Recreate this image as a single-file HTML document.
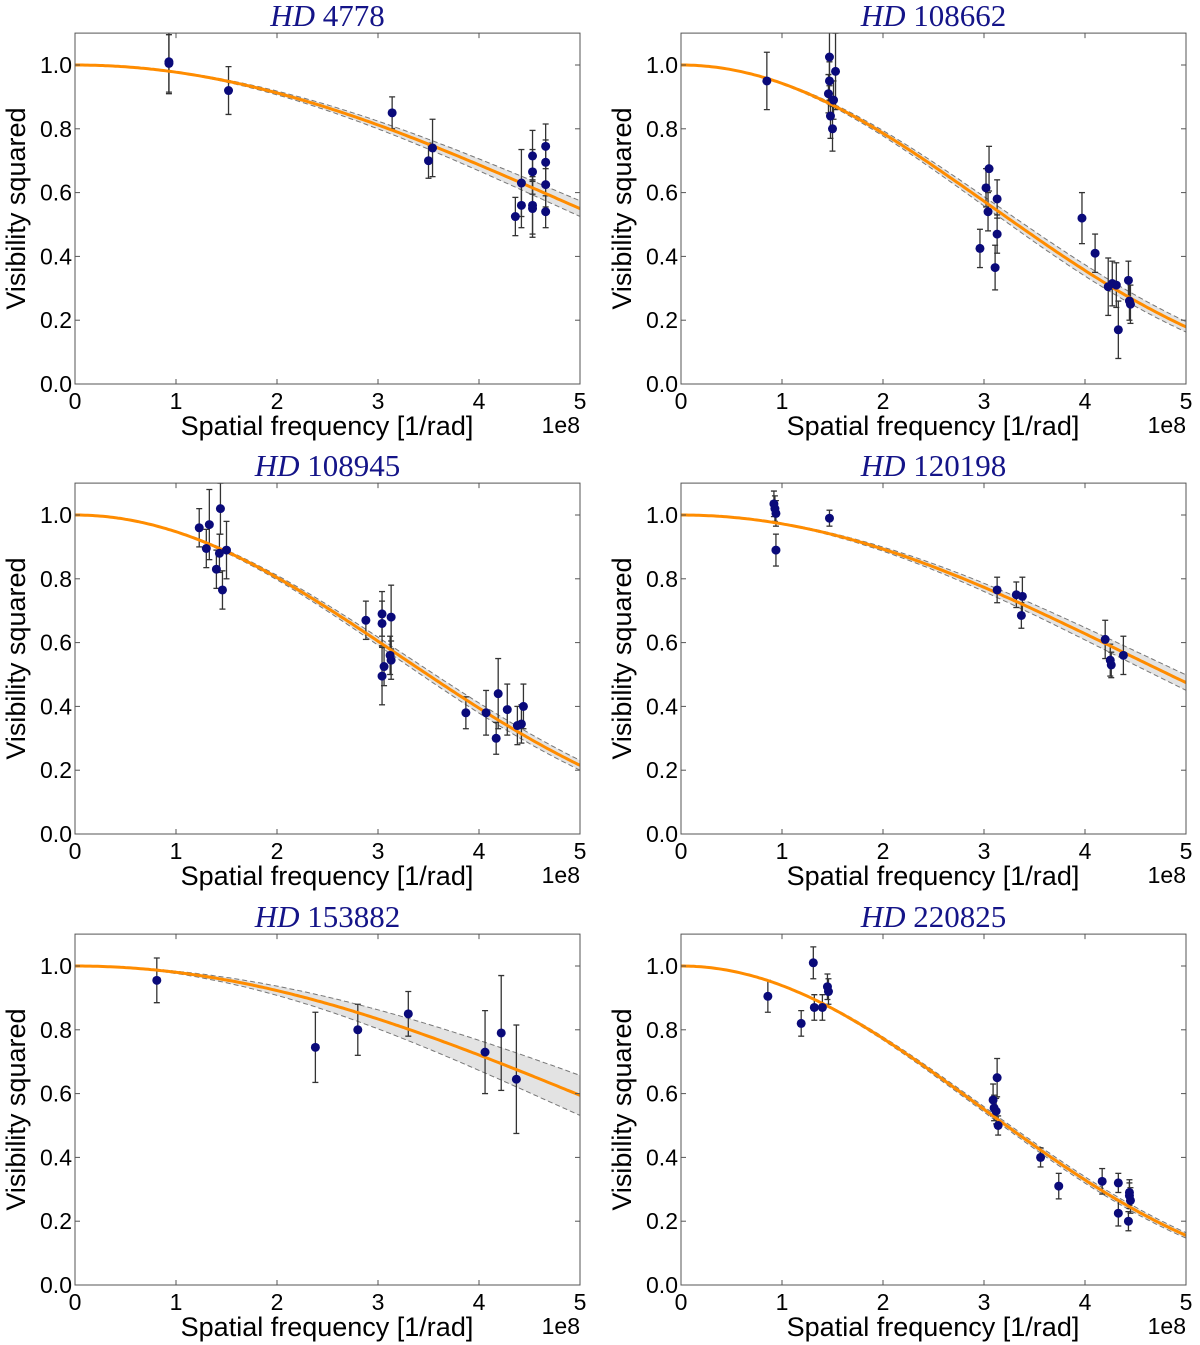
<!DOCTYPE html>
<html><head><meta charset="utf-8"><style>
html,body{margin:0;padding:0;background:#fff;}
svg{display:block;}
</style></head><body>
<svg id="fig" width="1200" height="1345" viewBox="0 0 1200 1345" xmlns="http://www.w3.org/2000/svg"></svg>
<script>
// ---------- data ----------
const starNames = ["4778","108662","108945","120198","153882","220825"];
const diametersMas = [0.198,0.319,0.304,0.2196,0.1852,0.3296];
const diameterErrMas = [0.007,0.007,0.006,0.007,0.018,0.004];
const xTicks = [0,1,2,3,4,5];
const yTicks = [0.0,0.2,0.4,0.6,0.8,1.0];
const yTickLabels = ["0.0","0.2","0.4","0.6","0.8","1.0"];
const freq1 = [0.93,0.93,1.52,3.14,3.50,3.54,4.36,4.42,4.42,4.53,4.53,4.53,4.53,4.66,4.66,4.66,4.66];
const vis1  = [1.01,1.005,0.92,0.85,0.70,0.74,0.525,0.63,0.56,0.56,0.55,0.715,0.665,0.745,0.695,0.625,0.54];
const err1  = [0.10,0.09,0.075,0.05,0.055,0.09,0.06,0.105,0.07,0.09,0.09,0.08,0.07,0.07,0.07,0.07,0.05];
const freq2 = [0.85,1.47,1.47,1.46,1.48,1.50,1.51,1.53,2.96,3.02,3.05,3.04,3.11,3.13,3.13,3.97,4.10,4.23,4.27,4.31,4.33,4.43,4.44,4.45];
const vis2  = [0.95,1.025,0.95,0.91,0.84,0.80,0.89,0.98,0.425,0.615,0.675,0.54,0.365,0.47,0.58,0.52,0.41,0.305,0.315,0.31,0.17,0.325,0.26,0.25];
const err2  = [0.09,0.09,0.06,0.06,0.07,0.07,0.06,0.12,0.06,0.06,0.07,0.06,0.07,0.06,0.06,0.08,0.06,0.09,0.07,0.07,0.09,0.06,0.06,0.06];
const freq3 = [1.23,1.33,1.30,1.40,1.43,1.44,1.46,1.50,2.88,3.04,3.04,3.04,3.06,3.13,3.13,3.12,3.87,4.07,4.17,4.19,4.28,4.38,4.42,4.44];
const vis3  = [0.96,0.97,0.895,0.83,0.88,1.02,0.765,0.89,0.67,0.66,0.69,0.495,0.525,0.545,0.68,0.56,0.38,0.38,0.30,0.44,0.39,0.34,0.345,0.40];
const err3  = [0.06,0.11,0.06,0.06,0.06,0.08,0.06,0.09,0.06,0.07,0.07,0.09,0.06,0.06,0.10,0.06,0.05,0.07,0.05,0.11,0.08,0.06,0.06,0.07];
const freq4 = [0.92,0.93,0.94,0.94,1.47,3.13,3.32,3.38,3.37,4.20,4.25,4.26,4.38];
const vis4  = [1.035,1.02,1.005,0.89,0.99,0.765,0.75,0.745,0.685,0.61,0.545,0.53,0.56];
const err4  = [0.04,0.04,0.04,0.05,0.025,0.04,0.04,0.06,0.04,0.06,0.05,0.04,0.06];
const freq5 = [0.81,2.38,2.80,3.30,4.06,4.22,4.37];
const vis5  = [0.955,0.745,0.80,0.85,0.73,0.79,0.645];
const err5  = [0.07,0.11,0.08,0.07,0.13,0.18,0.17];
const freq6 = [0.86,1.19,1.31,1.32,1.40,1.45,1.46,3.09,3.10,3.12,3.13,3.14,3.56,3.74,4.17,4.33,4.33,4.43,4.44,4.44,4.45];
const vis6  = [0.905,0.82,1.01,0.87,0.87,0.935,0.92,0.58,0.555,0.545,0.65,0.50,0.40,0.31,0.325,0.32,0.225,0.20,0.29,0.28,0.265];
const err6  = [0.05,0.04,0.05,0.04,0.04,0.04,0.04,0.05,0.04,0.04,0.06,0.03,0.03,0.04,0.04,0.03,0.04,0.03,0.04,0.04,0.04];

const freqs=[freq1,freq2,freq3,freq4,freq5,freq6];
const viss=[vis1,vis2,vis3,vis4,vis5,vis6];
const errs=[err1,err2,err3,err4,err5,err6];

// ---------- helpers ----------
const NS="http://www.w3.org/2000/svg";
const svg=document.getElementById('fig');
function mk(tag,attrs,parent){const e=document.createElementNS(NS,tag);for(const k in attrs)e.setAttribute(k,attrs[k]);(parent||svg).appendChild(e);return e;}
function J1(z){let s=0,t=z/2;for(let k=0;k<30;k++){s+=t;t*=-(z*z/4)/((k+1)*(k+2));}return s;}
function v2(u,thetaMas){const z=Math.PI*thetaMas*4.8481e-9*u*1e8;if(z<1e-9)return 1;const v=2*J1(z)/z;return v*v;}

const colX=[75,681], rowY1=[65,515,966], W=505, H=319;
const FONT='"Liberation Sans","DejaVu Sans",sans-serif';

for(let p=0;p<6;p++){
  const c=p%2, r=Math.floor(p/2);
  const x0=colX[c], y0=rowY1[r]+H;
  const X=u=>x0+u*W/5, Y=v=>y0-v*H;
  const top=Y(1.1);
  const g=mk('g',{});
  
  
  const cid='clip'+p;
  const cp=mk('clipPath',{id:cid},g); mk('rect',{x:x0,y:top,width:W,height:y0-top},cp);
  const pg=mk('g',{'clip-path':'url(#'+cid+')'},g);
  const th=diametersMas[p], dt=diameterErrMas[p];
  let up=[],lo=[],mid=[];
  for(let i=0;i<=200;i++){const u=5*i/200;up.push([X(u),Y(v2(u,th-dt))]);lo.push([X(u),Y(v2(u,th+dt))]);mid.push([X(u),Y(v2(u,th))]);}
  const pts=a=>a.map(q=>q[0].toFixed(1)+','+q[1].toFixed(1)).join(' ');
  const band=mk('polygon',{points:pts(up)+' '+pts(lo.slice().reverse()),fill:'#e3e3e3',stroke:'none'},pg);
  
  
  const bu=mk('polyline',{points:pts(up),fill:'none',stroke:'#777','stroke-width':1,'stroke-dasharray':'5,3'},pg);
  
  
  const bl=mk('polyline',{points:pts(lo),fill:'none',stroke:'#777','stroke-width':1,'stroke-dasharray':'5,3'},pg);
  
  
  const fq=freqs[p],vs=viss[p],er=errs[p];
  for(let i=0;i<fq.length;i++){
    const xx=X(fq[i]);
    const eb=mk('g',{stroke:'#333','stroke-width':1.3},pg);
    
    
    mk('line',{x1:xx,x2:xx,y1:Y(vs[i]-er[i]),y2:Y(vs[i]+er[i])},eb);
    mk('line',{x1:xx-3,x2:xx+3,y1:Y(vs[i]-er[i]),y2:Y(vs[i]-er[i])},eb);
    mk('line',{x1:xx-3,x2:xx+3,y1:Y(vs[i]+er[i]),y2:Y(vs[i]+er[i])},eb);
  }
  const ml=mk('polyline',{points:pts(mid),fill:'none',stroke:'#ff8c00','stroke-width':3},pg);
  
  
  for(let i=0;i<fq.length;i++){
    const pt=mk('circle',{cx:X(fq[i]),cy:Y(vs[i]),r:4.5,fill:'#0a0a7a'},pg);
    
    
  }
  const fr=mk('rect',{x:x0,y:top,width:W,height:y0-top,fill:'none',stroke:'#555','stroke-width':1},g);
  
  
  xTicks.forEach(t=>{
    const xx=X(t);
    mk('line',{x1:xx,x2:xx,y1:y0,y2:y0-5,stroke:'#555'},g);
    mk('line',{x1:xx,x2:xx,y1:top,y2:top+5,stroke:'#555'},g);
    const tl=mk('text',{x:xx,y:y0+25,'text-anchor':'middle','font-size':23,'font-family':FONT},g);
    tl.textContent=t;
    
    
  });
  yTicks.forEach((t,i)=>{
    const yy=Y(t);
    mk('line',{x1:x0,x2:x0+5,y1:yy,y2:yy,stroke:'#555'},g);
    mk('line',{x1:x0+W,x2:x0+W-5,y1:yy,y2:yy,stroke:'#555'},g);
    const tl=mk('text',{x:x0-3,y:yy+8,'text-anchor':'end','font-size':23,'font-family':FONT},g);
    tl.textContent=yTickLabels[i];
    
    
  });
  const xl=mk('text',{x:x0+252,y:y0+51,'text-anchor':'middle','font-size':27,'font-family':FONT},g);
  xl.textContent='Spatial frequency [1/rad]';
  
  
  const ex=mk('text',{x:x0+W,y:y0+49,'text-anchor':'end','font-size':23,'font-family':FONT},g);
  ex.textContent='1e8';
  
  
  const yl=mk('text',{x:0,y:0,'text-anchor':'middle','font-size':27,'font-family':FONT,transform:'translate('+(x0-50)+','+(Y(0.55))+') rotate(-90)'},g);
  yl.textContent='Visibility squared';
  
  
  const tt=mk('text',{x:x0+W/2,y:top-7,'text-anchor':'middle','font-size':31,'font-family':'"Liberation Serif","DejaVu Serif",serif',fill:'#141488'},g);
  tt.innerHTML='<tspan font-style="italic">HD</tspan> '+starNames[p];
  
  
}
</script>
</body></html>
